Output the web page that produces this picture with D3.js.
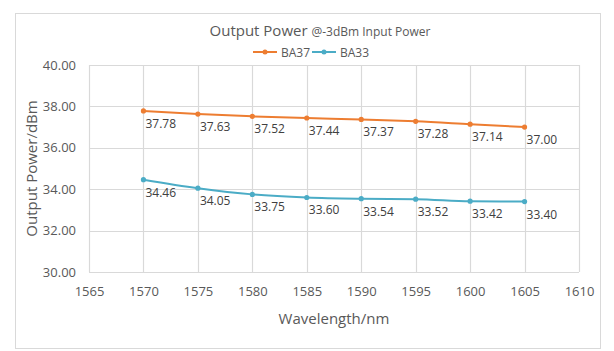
<!DOCTYPE html>
<html>
<head>
<meta charset="utf-8">
<script src="https://cdn.jsdelivr.net/npm/d3@7"></script>
<style>
  body { margin: 0; background: #fff; }
  svg { display: block; font-family: "Open Sans", sans-serif; }
</style>
</head>
<body>
<div id="chart"></div>
<script>
// data
var wavelengths = [1570, 1575, 1580, 1585, 1590, 1595, 1600, 1605];
var ba37 = [37.78, 37.63, 37.52, 37.44, 37.37, 37.28, 37.14, 37.00];
var ba33 = [34.46, 34.05, 33.75, 33.60, 33.54, 33.52, 33.42, 33.40];
var seriesNames = ["BA37", "BA33"];
var xTicks = [1565, 1570, 1575, 1580, 1585, 1590, 1595, 1600, 1605, 1610];
var yTicks = [30, 32, 34, 36, 38, 40];

var colors = { BA37: "#ED7D31", BA33: "#4BACC6" };
var W = 614, H = 351;
var plot = { left: 89, right: 579, top: 65, bottom: 272 };

var svg = d3.select("#chart").append("svg")
    .attr("width", W).attr("height", H);

// outer frame
svg.append("rect")
    .attr("x", 15.5).attr("y", 13.5)
    .attr("width", 585).attr("height", 335)
    .attr("fill", "#fff").attr("stroke", "#d9d9d9");

var x = d3.scaleLinear().domain([1565, 1610]).range([plot.left, plot.right]);
var y = d3.scaleLinear().domain([30, 40]).range([plot.bottom, plot.top]);

// gridlines
svg.append("g").selectAll("line").data(yTicks).enter().append("line")
    .attr("x1", plot.left).attr("x2", plot.right)
    .attr("y1", function (d) { return Math.round(y(d)) + 0.5; })
    .attr("y2", function (d) { return Math.round(y(d)) + 0.5; })
    .attr("stroke", "#d9d9d9").attr("stroke-width", 1.2);
svg.append("g").selectAll("line").data(xTicks).enter().append("line")
    .attr("y1", plot.top).attr("y2", plot.bottom)
    .attr("x1", function (d) { return Math.round(x(d)) + 0.5; })
    .attr("x2", function (d) { return Math.round(x(d)) + 0.5; })
    .attr("stroke", "#d9d9d9").attr("stroke-width", 1.2);

// axes (labels only, Excel style)
var yAxis = svg.append("g")
    .attr("transform", "translate(" + (plot.left - 10) + ",0)")
    .call(d3.axisLeft(y).tickValues(yTicks).tickFormat(d3.format(".2f")).tickSize(0));
var xAxis = svg.append("g")
    .attr("transform", "translate(0," + (plot.bottom + 12) + ")")
    .call(d3.axisBottom(x).tickValues(xTicks).tickFormat(d3.format("d")).tickSize(0));
[yAxis, xAxis].forEach(function (a) {
    a.select(".domain").remove();
    a.selectAll("text").attr("fill", "#595959")
        .style("font-size", "13px").style("font-family", "'Open Sans', sans-serif");
});

// axis titles
svg.append("text")
    .attr("x", x(1587.5)).attr("y", 324)
    .attr("text-anchor", "middle").attr("fill", "#595959")
    .style("font-size", "15px").text("Wavelength/nm");
svg.append("text")
    .attr("transform", "translate(37," + ((plot.top + plot.bottom) / 2) + ") rotate(-90)")
    .attr("text-anchor", "middle").attr("fill", "#595959")
    .style("font-size", "15px").text("Output Power/dBm");

// title
var title = svg.append("text")
    .attr("x", 320).attr("y", 36)
    .attr("text-anchor", "middle").attr("fill", "#595959");
title.append("tspan").style("font-size", "15px").text("Output Power ");
title.append("tspan").style("font-size", "12px").text("@-3dBm Input Power");

// legend
var legend = svg.append("g").attr("transform", "translate(253,52)");
var legendX = [0, 59];
seriesNames.forEach(function (name, i) {
    var g = legend.append("g").attr("transform", "translate(" + legendX[i] + ",0)");
    g.append("line").attr("x1", 0).attr("x2", 24).attr("y1", 0).attr("y2", 0)
        .attr("stroke", colors[name]).attr("stroke-width", 2);
    g.append("circle").attr("cx", 12).attr("cy", 0).attr("r", 2.5).attr("fill", colors[name]);
    g.append("text").attr("x", 28).attr("y", 4.5).attr("fill", "#595959")
        .style("font-size", "12px").text(name);
});

// series
var series = [
    { name: "BA37", values: ba37 },
    { name: "BA33", values: ba33 }
];
var line = d3.line()
    .x(function (d, i) { return x(wavelengths[i]); })
    .y(function (d) { return y(d); })
    .curve(d3.curveMonotoneX);

series.forEach(function (s) {
    svg.append("path").datum(s.values)
        .attr("d", line).attr("fill", "none")
        .attr("stroke", colors[s.name]).attr("stroke-width", 2);
    svg.append("g").selectAll("circle").data(s.values).enter().append("circle")
        .attr("cx", function (d, i) { return x(wavelengths[i]); })
        .attr("cy", function (d) { return y(d); })
        .attr("r", 2.6).attr("fill", colors[s.name]);
    svg.append("g").selectAll("text").data(s.values).enter().append("text")
        .attr("x", function (d, i) { return x(wavelengths[i]) + 2; })
        .attr("y", function (d) { return y(d) + 17; })
        .attr("fill", "#404040").style("font-size", "12px")
        .text(function (d) { return d.toFixed(2); });
});
</script>
</body>
</html>
